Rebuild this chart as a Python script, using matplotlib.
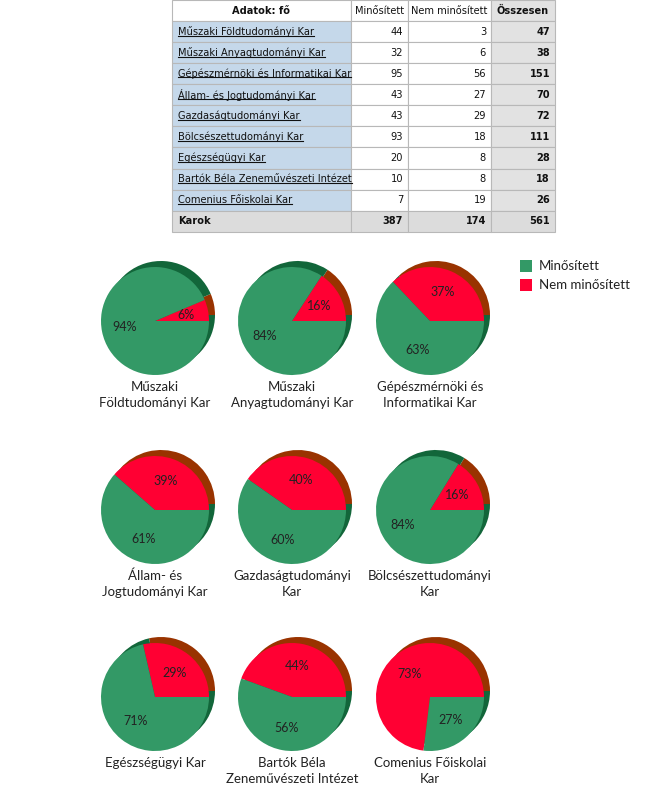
import matplotlib
matplotlib.use("Agg")
import matplotlib.pyplot as plt
from matplotlib.patches import Rectangle

W, H = 647, 802

karok = [
    "Műszaki Földtudományi Kar",
    "Műszaki Anyagtudományi Kar",
    "Gépészmérnöki és Informatikai Kar",
    "Állam- és Jogtudományi Kar",
    "Gazdaságtudományi Kar",
    "Bölcsészettudományi Kar",
    "Egészségügyi Kar",
    "Bartók Béla Zeneművészeti Intézet",
    "Comenius Főiskolai Kar",
]
minositett = [44, 32, 95, 43, 43, 93, 20, 10, 7]
nem_minositett = [3, 6, 56, 27, 29, 18, 8, 8, 19]
pie_titles = [
    "Műszaki\nFöldtudományi Kar",
    "Műszaki\nAnyagtudományi Kar",
    "Gépészmérnöki és\nInformatikai Kar",
    "Állam- és\nJogtudományi Kar",
    "Gazdaságtudományi\nKar",
    "Bölcsészettudományi\nKar",
    "Egészségügyi Kar",
    "Bartók Béla\nZeneművészeti Intézet",
    "Comenius Főiskolai\nKar",
]
headers = ["Adatok: fő", "Minősített", "Nem minősített", "Összesen"]
legend_labels = ["Minősített", "Nem minősített"]

GREEN, RED = "#339966", "#ff0033"
GREEN_DARK, RED_DARK = "#12663a", "#993300"

fig = plt.figure(figsize=(W / 100, H / 100), dpi=100)
ax = fig.add_axes([0, 0, 1, 1])

# ---------------- pies ----------------
col_x = [155, 292, 430]
row_y = [321, 510, 697]
r = 54
for i in range(9):
    cx = col_x[i % 3]
    cy = H - row_y[i // 3]
    vals = [nem_minositett[i], minositett[i]]
    # shadow
    ax.pie(vals, colors=[RED_DARK, GREEN_DARK], startangle=0, counterclock=True,
           center=(cx + 6, cy + 6), radius=r, wedgeprops=dict(linewidth=0))
    ax.pie(vals, colors=[RED, GREEN], startangle=0, counterclock=True,
           center=(cx, cy), radius=r, autopct="%1.0f%%", pctdistance=0.58,
           wedgeprops=dict(linewidth=0),
           textprops=dict(fontsize=9, color="#222222", family="Lato"))
    ax.text(cx, H - (row_y[i // 3] + 60), pie_titles[i], ha="center", va="top",
            fontsize=9.5, family="Lato", color="#222222", linespacing=1.4)

# legend
for j, (lab, c) in enumerate(zip(legend_labels, [GREEN, RED])):
    y0 = 260 + j * 19
    ax.add_patch(Rectangle((520, H - y0 - 12), 12, 12, facecolor=c, edgecolor="none"))
    ax.text(539, H - y0 - 6, lab, ha="left", va="center", fontsize=9.5,
            family="Lato", color="#222222")

# ---------------- table ----------------
xs = [172, 351, 408, 491, 555]
row_tops = [0, 21] + [21 + 21.08 * k for k in range(1, 11)]
BORDER = "#b8b8b8"

def cell(x0, x1, y0, y1, fc):
    ax.add_patch(Rectangle((x0, H - y1), x1 - x0, y1 - y0, facecolor=fc,
                           edgecolor=BORDER, linewidth=0.8))

tfont = dict(family="DejaVu Sans", fontsize=7.1, color="#111111")
# header
for c in range(4):
    fc = "#e2e2e2" if c == 3 else "white"
    cell(xs[c], xs[c + 1], row_tops[0], row_tops[1], fc)
    ax.text((xs[c] + xs[c + 1]) / 2, H - 10.5, headers[c], ha="center", va="center",
            fontweight="bold" if c in (0, 3) else "normal", **tfont)

underline_texts = []
totals = [m + n for m, n in zip(minositett, nem_minositett)]
for k in range(9):
    y0, y1 = row_tops[k + 1], row_tops[k + 2]
    yc = H - (y0 + y1) / 2
    cell(xs[0], xs[1], y0, y1, "#c5d8ea")
    cell(xs[1], xs[2], y0, y1, "white")
    cell(xs[2], xs[3], y0, y1, "white")
    cell(xs[3], xs[4], y0, y1, "#e2e2e2")
    t = ax.text(xs[0] + 6, yc, karok[k], ha="left", va="center", **tfont)
    underline_texts.append(t)
    ax.text(xs[2] - 5, yc, str(minositett[k]), ha="right", va="center", **tfont)
    ax.text(xs[3] - 5, yc, str(nem_minositett[k]), ha="right", va="center", **tfont)
    ax.text(xs[4] - 5, yc, str(totals[k]), ha="right", va="center",
            fontweight="bold", **tfont)

# total row
y0, y1 = row_tops[10], row_tops[11]
yc = H - (y0 + y1) / 2
for c in range(4):
    cell(xs[c], xs[c + 1], y0, y1, "#dcdcdc")
ax.text(xs[0] + 6, yc, "Karok", ha="left", va="center", fontweight="bold", **tfont)
for c, v in zip([1, 2, 3], [sum(minositett), sum(nem_minositett), sum(totals)]):
    ax.text(xs[c + 1] - 5, yc, str(v), ha="right", va="center", fontweight="bold", **tfont)

ax.set_xlim(0, W)
ax.set_ylim(0, H)
ax.set_aspect("auto")
ax.axis("off")

# underline the faculty names like hyperlinks
fig.canvas.draw()
inv = ax.transData.inverted()
for t in underline_texts:
    bb = t.get_window_extent().transformed(inv)
    ax.plot([bb.x0, bb.x1], [bb.y0 + 1.5, bb.y0 + 1.5], color="#111111", lw=0.8)

fig.savefig("out.png", dpi=100)
